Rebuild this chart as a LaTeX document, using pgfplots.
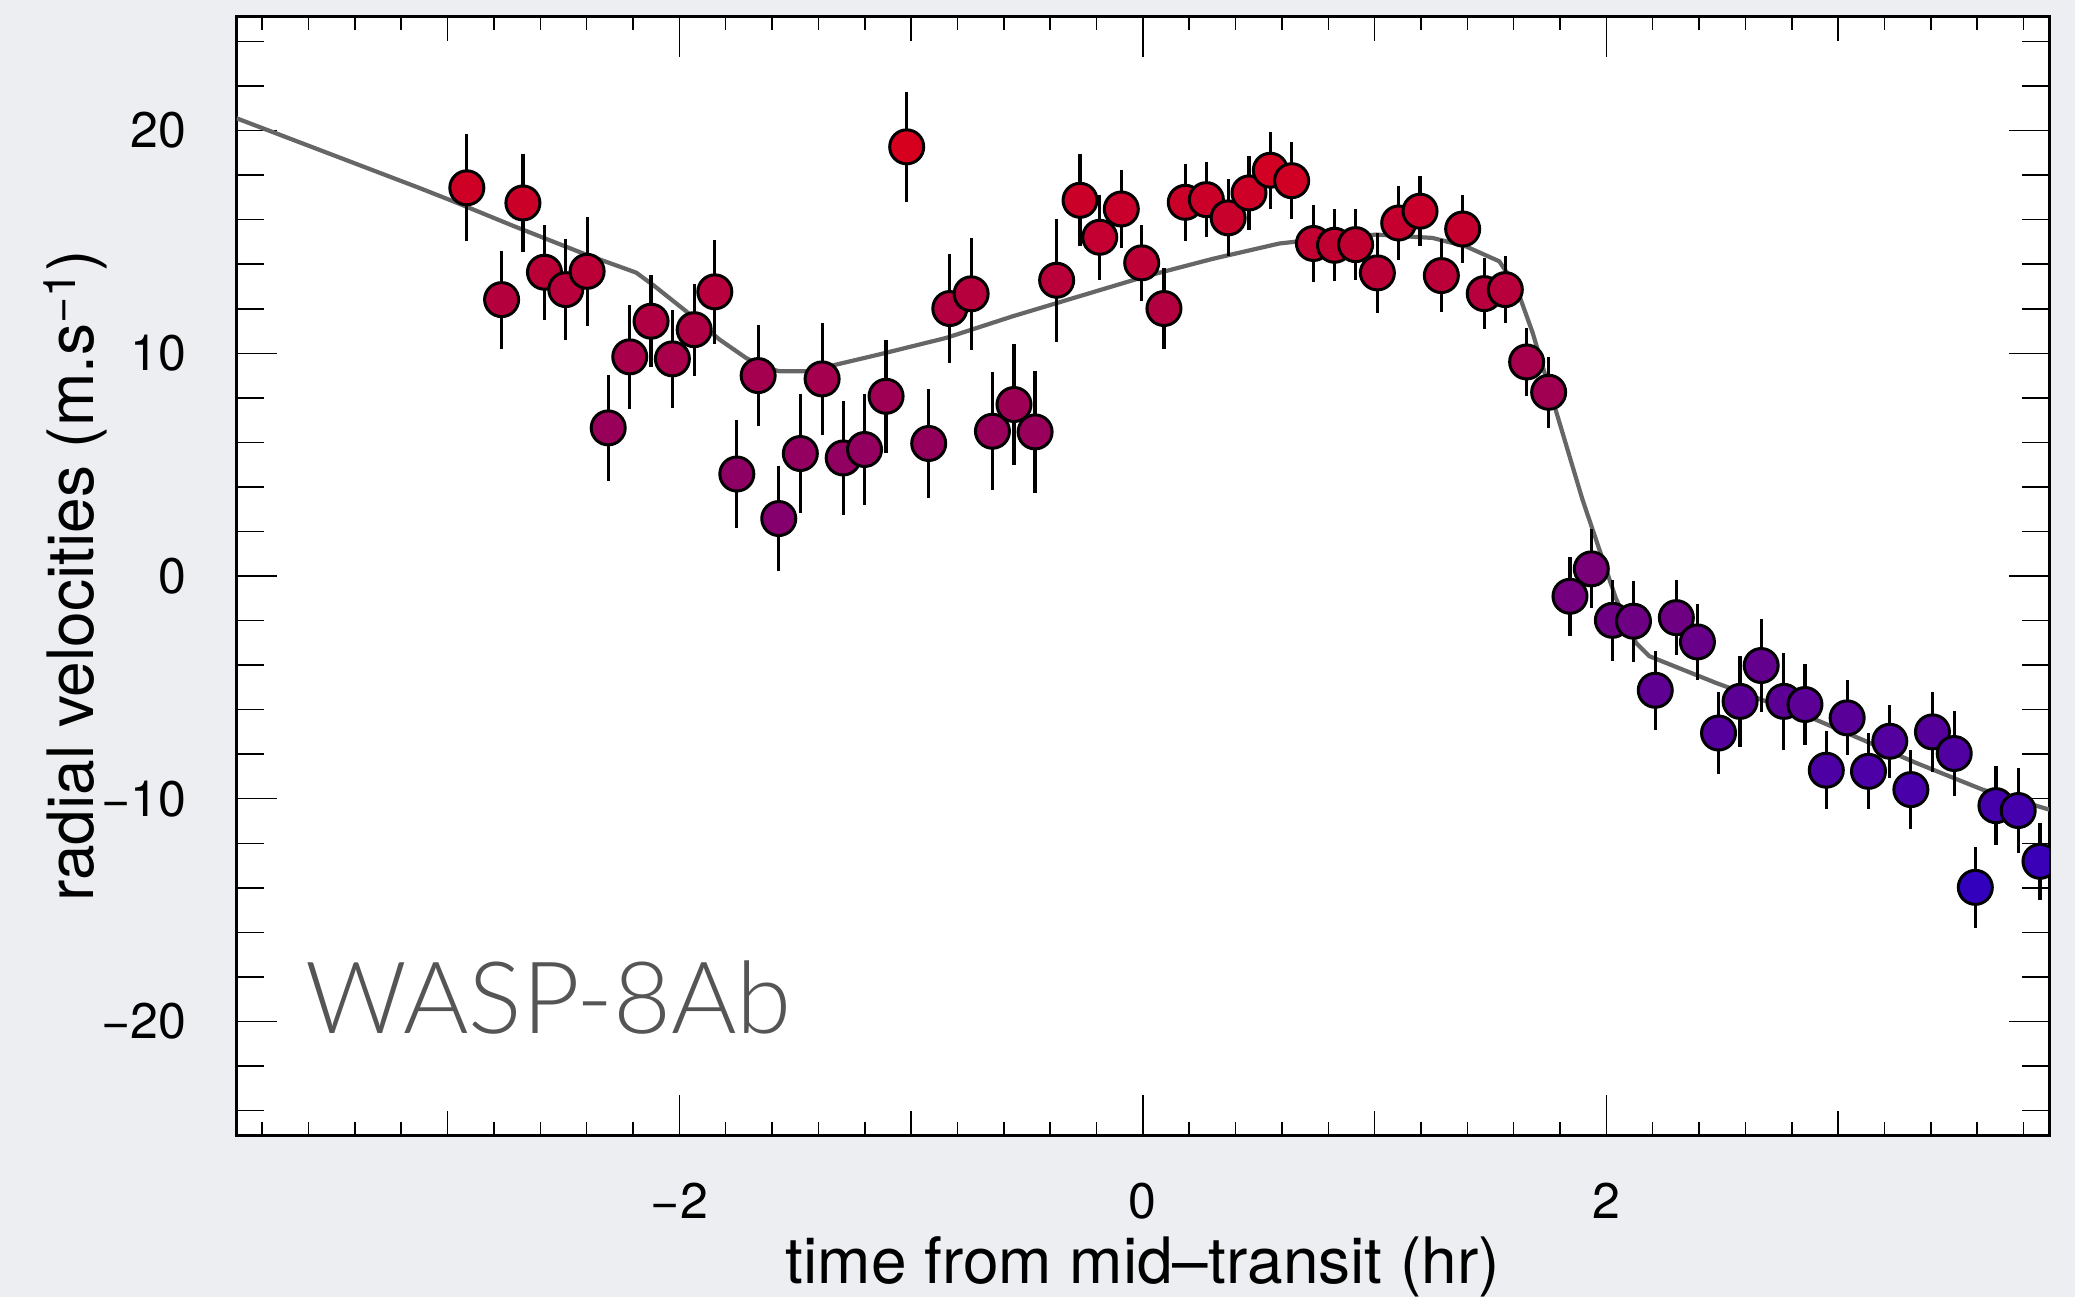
\documentclass[border=0pt]{standalone}
\usepackage{fontspec}
\setmainfont{TeX Gyre Heros}
\IfFontExistsTF{Lato Light}{\newfontfamily\latofont{Lato Light}}{\newfontfamily\latofont{Lato}}
\usepackage{pgfplots}
\usepackage{pgfplotstable}
\pgfplotsset{compat=1.18}
\definecolor{bgc}{RGB}{236,238,242}
\definecolor{modelc}{RGB}{102,102,102}
\definecolor{labc}{RGB}{85,85,85}

\pgfplotstableread{
x y e
-2.917 17.43 2.40
-2.767 12.41 2.20
-2.675 16.75 2.20
-2.582 13.64 2.13
-2.490 12.86 2.25
-2.398 13.68 2.45
-2.307 6.65 2.37
-2.214 9.84 2.33
-2.122 11.44 2.07
-2.030 9.75 2.20
-1.936 11.06 2.06
-1.847 12.76 2.33
-1.752 4.58 2.42
-1.660 9.00 2.28
-1.571 2.58 2.37
-1.478 5.50 2.66
-1.384 8.85 2.52
-1.293 5.30 2.56
-1.201 5.68 2.50
-1.108 8.07 2.54
-1.019 19.27 2.46
-0.924 5.95 2.46
-0.833 12.01 2.43
-0.741 12.67 2.50
-0.649 6.50 2.66
-0.556 7.70 2.70
-0.465 6.47 2.75
-0.372 13.28 2.77
-0.271 16.87 2.07
-0.186 15.21 1.90
-0.093 16.48 1.75
-0.005 14.06 1.71
0.091 12.01 1.80
0.183 16.78 1.73
0.274 16.90 1.70
0.368 16.08 1.73
0.458 17.20 1.67
0.550 18.22 1.72
0.642 17.75 1.74
0.736 14.93 1.74
0.827 14.85 1.62
0.918 14.88 1.61
1.012 13.61 1.80
1.104 15.85 1.67
1.196 16.38 1.58
1.288 13.49 1.65
1.380 15.58 1.53
1.473 12.68 1.60
1.564 12.86 1.52
1.656 9.61 1.51
1.751 8.25 1.60
1.843 -0.91 1.78
1.935 0.32 1.77
2.026 -1.99 1.82
2.117 -2.03 1.81
2.211 -5.13 1.77
2.302 -1.87 1.68
2.393 -2.96 1.70
2.484 -7.05 1.84
2.577 -5.63 2.04
2.668 -4.02 2.07
2.766 -5.63 2.17
2.857 -5.77 1.80
2.949 -8.72 1.74
3.039 -6.37 1.68
3.131 -8.77 1.70
3.223 -7.42 1.65
3.314 -9.59 1.77
3.407 -7.00 1.80
3.501 -7.97 1.90
3.592 -13.98 1.81
3.681 -10.31 1.78
3.777 -10.53 1.89
3.871 -12.81 1.74
}\rvdata

\begin{document}
\begin{tikzpicture}
\fill[bgc] (-118.35pt,-81pt) rectangle (919.15pt,567.5pt);
\begin{axis}[
  scale only axis,
  width=906.15pt, height=559pt,
  xmin=-3.91, xmax=3.91, ymin=-25.1, ymax=25.1,
  axis background/.style={fill=white},
  axis line style={line width=1.5pt, black},
  tick align=inside,
  xtick={-2,0,2}, xticklabels={−2,0,2},
  ytick={-20,-10,0,10,20}, yticklabels={−20,−10,0,10,20},
  minor xtick={-3.8,-3.6,-3.4,-3.2,-3.0,-2.8,-2.6,-2.4,-2.2,-1.8,-1.6,-1.4,-1.2,-1.0,-0.8,-0.6,-0.4,-0.2,0.2,0.4,0.6,0.8,1.0,1.2,1.4,1.6,1.8,2.2,2.4,2.6,2.8,3.0,3.2,3.4,3.6,3.8},
  extra x ticks={-3,-1,1,3}, extra x tick labels={},
  extra x tick style={major tick length=12pt},
  extra y ticks={-24,-22,-18,-16,-14,-12,-8,-6,-4,-2,2,4,6,8,12,14,16,18,22,24},
  extra y tick labels={},
  extra y tick style={major tick length=13.5pt},
  major tick length=20pt, minor tick length=6.5pt,
  tick style={line width=0.75pt, black},
  ticklabel style={font=\fontsize{25}{30}\selectfont},
  xticklabel style={anchor=base, inner sep=0pt, yshift=-41.65pt},
  yticklabel style={anchor=east, inner sep=0pt, xshift=-25pt},
  label style={font=\fontsize{32}{38}\selectfont},
  xlabel={time from mid\textendash transit (hr)},
  ylabel={radial velocities (m.s\textsuperscript{−1})},
  xlabel style={at={(axis description cs:0.5,-0.1324)}, anchor=base},
  ylabel style={at={(axis description cs:-0.0788,0.5)}, anchor=base},
  clip marker paths=true,
  colormap={rb}{rgb255(0pt)=(51,0,190); rgb255(1pt)=(214,0,30)},
  point meta min=-14, point meta max=19.3,
]
\addplot[modelc, line width=2.1pt, line join=round] coordinates {
(-3.91,20.55) (-3.121,17.42) (-2.977,16.83) (-2.719,15.73) (-2.402,14.43)
(-2.22,13.75) (-2.186,13.62) (-2.115,13.08) (-1.971,11.89) (-1.827,10.62)
(-1.712,9.79) (-1.64,9.4) (-1.568,9.19) (-1.453,9.19) (-1.324,9.49)
(-1.137,9.95) (-0.849,10.69) (-0.562,11.66) (-0.274,12.56) (0.014,13.46)
(0.301,14.24) (0.589,14.93) (0.675,15.03) (1.006,15.33) (1.25,15.18)
(1.394,14.8) (1.538,14.13) (1.61,13.01) (1.682,10.92) (1.768,7.92)
(1.897,3.43) (2.041,-1.0) (2.128,-3.0) (2.185,-3.6) (2.473,-4.8)
(2.904,-6.45) (3.336,-8.39) (3.623,-9.59) (3.911,-10.49)
};
\addplot[
  scatter, only marks, mark=*, mark size=8.5pt,
  scatter/use mapped color={draw=black, fill=mapped color},
  mark options={line width=1.5pt},
  point meta=y,
  error bars/.cd, y dir=both, y explicit, error mark=none,
  error bar style={line width=1.6pt, black},
] table[x=x, y=y, y error=e] {\rvdata};
\node[anchor=base west, inner sep=0pt, text=labc, font=\latofont\fontsize{50}{60}\selectfont] at (axis cs:-3.617,-20.52) {WASP-8Ab};
\end{axis}
\pgfresetboundingbox
\path[use as bounding box] (-118.35pt,-81pt) rectangle (919.15pt,567.5pt);
\end{tikzpicture}
\end{document}
